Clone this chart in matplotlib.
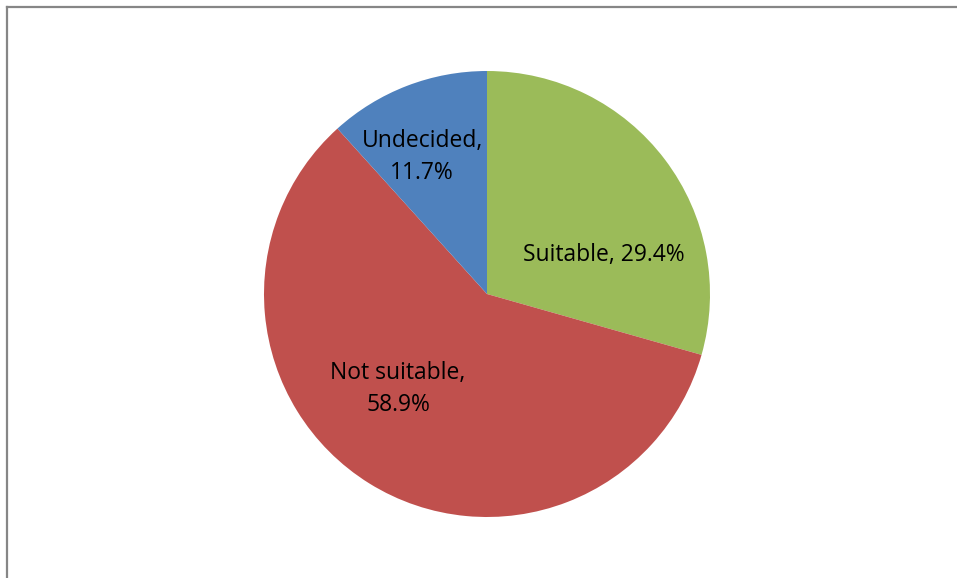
import matplotlib.pyplot as plt
from matplotlib.lines import Line2D

labels = ["Suitable", "Not suitable", "Undecided"]
shares = [29.4, 58.9, 11.7]
colors = ["#9BBB59", "#C0504D", "#4F81BD"]
# label text placement (pie radius units), Excel "best fit" style
label_pos = [(0.525, 0.175), (-0.399, -0.426), (-0.291, 0.614)]
label_text = ["Suitable, 29.4%", "Not suitable,\n58.9%", "Undecided,\n11.7%"]

plt.rcParams['font.family'] = ['Open Sans', 'DejaVu Sans']

fig = plt.figure(figsize=(9.57, 5.78), dpi=100)
ax = fig.add_axes([264 / 957, 61 / 578, 446 / 957, 446 / 578])
ax.pie(shares, colors=colors, startangle=90, counterclock=False,
       radius=1.0, wedgeprops=dict(linewidth=0))
ax.set_xlim(-1, 1)
ax.set_ylim(-1, 1)
ax.set_aspect('auto')

for (x, y), t in zip(label_pos, label_text):
    ax.text(x, y, t, ha='center', va='center', fontsize=16.5,
            color='black', linespacing=1.4)

# chart-area border (only top and left visible in the crop)
fig.add_artist(Line2D([7.5 / 957, 7.5 / 957], [0, 1 - 7 / 578],
                      transform=fig.transFigure, color='#868686', lw=1.6))
fig.add_artist(Line2D([7.5 / 957, 1], [1 - 7 / 578, 1 - 7 / 578],
                      transform=fig.transFigure, color='#868686', lw=1.6))

fig.savefig("out.png", dpi=100)
plt.close()
